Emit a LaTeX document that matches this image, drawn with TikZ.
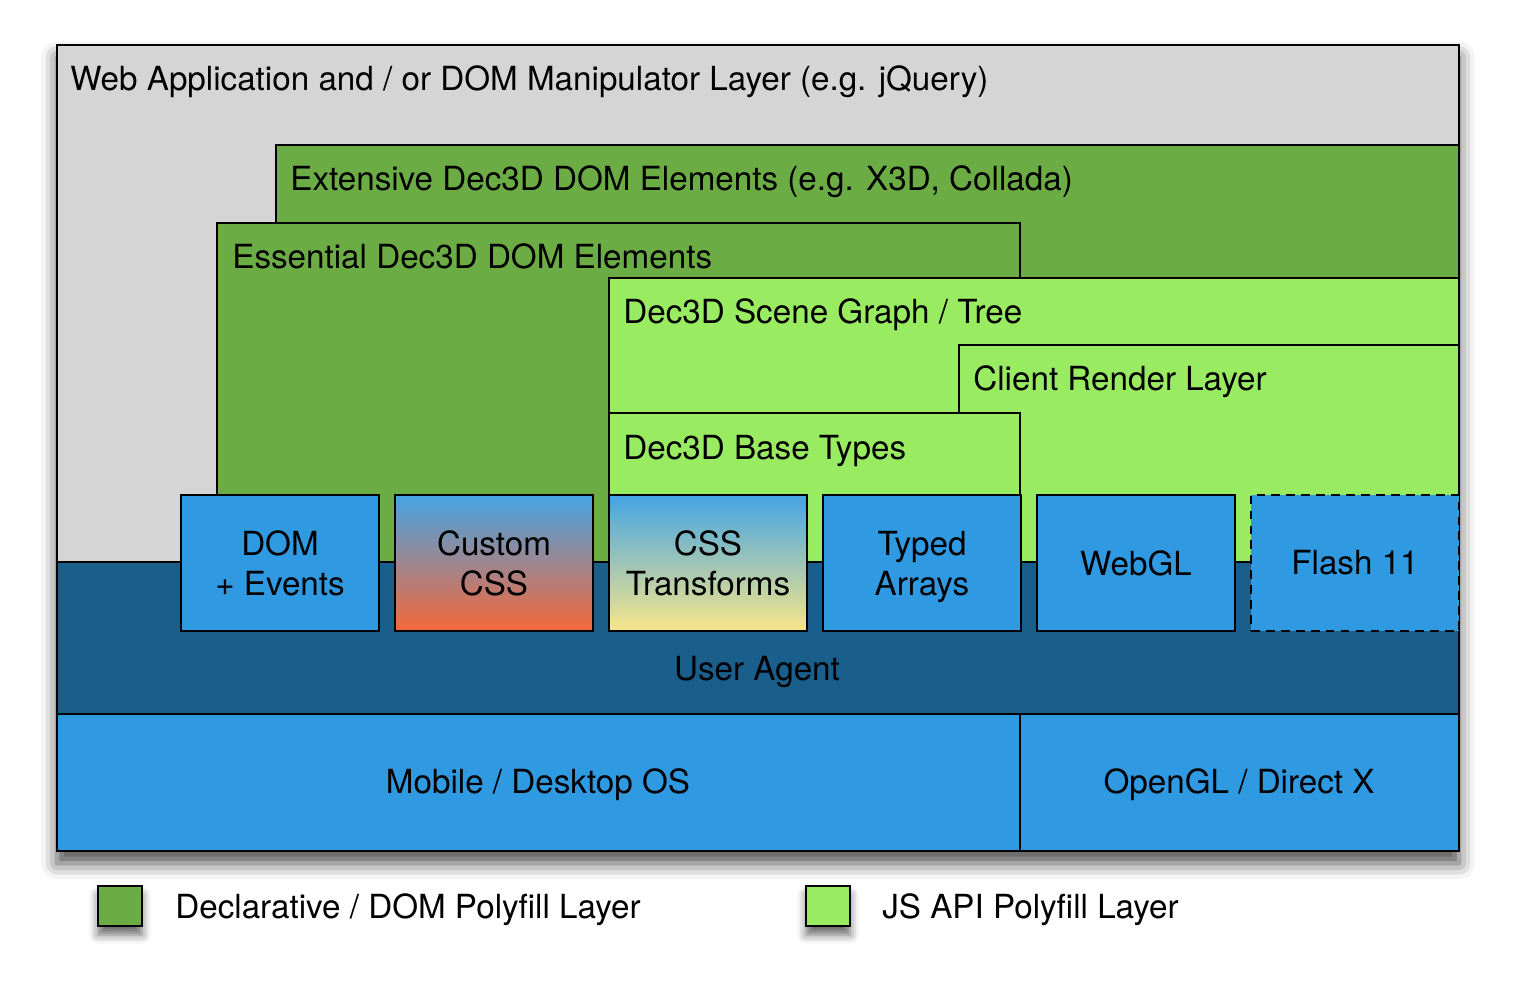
\documentclass[tikz,border=0pt]{standalone}
\usepackage{fontspec}
\setmainfont{TeX Gyre Heros}
\usetikzlibrary{shadows.blur}

\definecolor{greyLayer}{HTML}{D5D5D5}
\definecolor{darkGreen}{HTML}{6BAD44}
\definecolor{lightGreen}{HTML}{99EC62}
\definecolor{apiBlue}{HTML}{2F9AE1}
\definecolor{agentBlue}{HTML}{1A5E8B}
\definecolor{cssOrange}{HTML}{F7673A}
\definecolor{cssYellow}{HTML}{F8E68A}

\begin{document}
\begin{tikzpicture}[
    x=0.02cm, y=-0.02cm,
    layer/.style={draw, line width=1.6pt}, % Стиль для слоёв
    title/.style={anchor=base west, inner sep=0pt, font=\fontsize{18.9}{22.8}\selectfont}, % Подписи слоёв
    label/.style={inner sep=0pt, align=center, font=\fontsize{18.9}{22.8}\selectfont}, % Подписи по центру
    api/.style={draw, line width=1.6pt, minimum width=3.96cm, minimum height=2.72cm, align=center, font=\fontsize{18.9}{22.8}\selectfont}, % Стиль для блоков API
    legendbox/.style={draw, line width=1.6pt, minimum width=0.88cm, minimum height=0.8cm, inner sep=0pt,
        blur shadow={shadow xshift=0pt, shadow yshift=-5pt, shadow blur radius=5pt, shadow opacity=60}}
]
    \useasboundingbox (0,0) rectangle (1513,994);

    % Внешний слой (с тенью)
    \path[layer, fill=greyLayer, blur shadow={shadow xshift=0pt, shadow yshift=-7pt, shadow blur radius=9pt, shadow opacity=70}]
        (57,45) rectangle (1459,851);
    \node[title] (webapp) at (70,90) {Web Application and / or DOM Manipulator Layer (e.g. jQuery)};

    % Зелёные слои
    \path[layer, fill=darkGreen] (276,145) rectangle (1459,562);
    \node[title] (extensive) at (290,190) {Extensive Dec3D DOM Elements (e.g. X3D, Collada)};
    \path[layer, fill=darkGreen] (217,223) rectangle (1020,562);
    \node[title] (essential) at (232,268) {Essential Dec3D DOM Elements};
    \path[layer, fill=lightGreen] (609,278) rectangle (1459,562);
    \node[title] (scene) at (623,323) {Dec3D Scene Graph / Tree};
    \path[layer, fill=lightGreen] (959,345) rectangle (1459,562);
    \node[title] (client) at (973,390) {Client Render Layer};
    \path[layer, fill=lightGreen] (609,413) rectangle (1020,562);
    \node[title] (basetypes) at (623,459) {Dec3D Base Types};

    % Нижние слои
    \path[layer, fill=agentBlue] (57,562) rectangle (1459,714);
    \node[label] (agent) at (757,672) {User Agent};
    \path[layer, fill=apiBlue] (57,714) rectangle (1020,851);
    \node[label] (os) at (538,785) {Mobile / Desktop OS};
    \path[layer, fill=apiBlue] (1020,714) rectangle (1459,851);
    \node[label] (opengl) at (1239,785) {OpenGL / Direct X};

    % Блоки API
    \node[api, fill=apiBlue] (dom) at (280,563) {DOM\\+ Events};
    \node[api, top color=apiBlue!90!white, bottom color=cssOrange] (customcss) at (494,563) {Custom\\CSS};
    \node[api, top color=apiBlue!90!white, bottom color=cssYellow] (transforms) at (708,563) {CSS\\Transforms};
    \node[api, fill=apiBlue] (typed) at (922,563) {Typed\\\smash{Arrays}};
    \node[api, fill=apiBlue] (webgl) at (1136,563) {WebGL};
    \node[api, fill=apiBlue, minimum width=4.16cm, dash pattern=on 5pt off 3.5pt] (flash) at (1355,563) {Flash 11};

    % Легенда
    \node[legendbox, fill=darkGreen] (declbox) at (120,906) {};
    \node[title] (decl) at (175,918) {Declarative / DOM Polyfill Layer};
    \node[legendbox, fill=lightGreen] (jsbox) at (828,906) {};
    \node[title] (js) at (882,918) {JS API Polyfill Layer};

\end{tikzpicture}
\end{document}
